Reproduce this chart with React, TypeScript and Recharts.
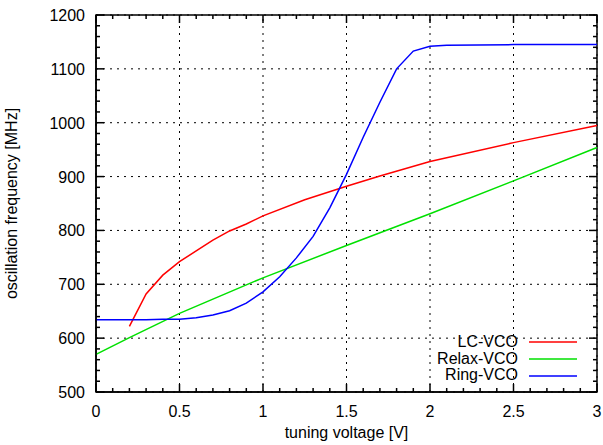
import { LineChart, Line, XAxis, YAxis, Legend, Label, ReferenceArea, ReferenceLine } from "recharts";

const FONT = "'Liberation Sans', Arial, Helvetica, sans-serif";
const FS = 16;

// plot box size, used to mirror the ticks on the top and right edges
const PLOT_W = 501;
const PLOT_H = 377;

// tick positions
const xMajorTicks = [0, 0.5, 1, 1.5, 2, 2.5, 3];
const xMinorTicks = [
  0, 0.1, 0.2, 0.3, 0.4, 0.5, 0.6, 0.7, 0.8, 0.9, 1, 1.1, 1.2, 1.3, 1.4, 1.5,
  1.6, 1.7, 1.8, 1.9, 2, 2.1, 2.2, 2.3, 2.4, 2.5, 2.6, 2.7, 2.8, 2.9, 3,
];
const yMajorTicks = [500, 600, 700, 800, 900, 1000, 1100, 1200];
const yMinorTicks = [
  500, 520, 540, 560, 580, 600, 620, 640, 660, 680, 700, 720, 740, 760, 780,
  800, 820, 840, 860, 880, 900, 920, 940, 960, 980, 1000, 1020, 1040, 1060,
  1080, 1100, 1120, 1140, 1160, 1180, 1200,
];

// LC-VCO
const lcVoltage = [0.2, 0.3, 0.4, 0.5, 0.6, 0.7, 0.8, 0.9, 1.0, 1.25, 1.5, 1.7, 2.0, 2.5, 3.0];
const lcFreq = [622, 682, 717, 742, 762, 782, 799, 812, 827, 857, 882, 901, 928, 963, 995];

// Relax-VCO
const relaxVoltage = [0, 0.2, 0.5, 1.0, 1.5, 2.0, 2.5, 3.0];
const relaxFreq = [570, 601, 646, 712, 772, 831, 892, 954];

// Ring-VCO
const ringVoltage = [
  0, 0.1, 0.2, 0.3, 0.4, 0.5, 0.6, 0.7, 0.8, 0.9, 1.0, 1.1, 1.2, 1.3, 1.4, 1.5,
  1.6, 1.7, 1.8, 1.9, 2.0, 2.1, 2.5, 3.0,
];
const ringFreq = [
  634, 634, 634, 634, 635, 635, 638, 643, 651, 665, 686, 714, 749, 789, 842, 904,
  973, 1038, 1100, 1133, 1142, 1144, 1145, 1145,
];

const seriesColors: Record<string, string> = {
  "LC-VCO": "#ff0000",
  "Relax-VCO": "#00e000",
  "Ring-VCO": "#0000ff",
};

const toRows = (xs: number[], ys: number[]) => xs.map((v, i) => ({ v, f: ys[i] }));

const lcData = toRows(lcVoltage, lcFreq);
const relaxData = toRows(relaxVoltage, relaxFreq);
const ringData = toRows(ringVoltage, ringFreq);

const frame = { stroke: "#000", strokeWidth: 1.5 };

// inward ticks (gnuplot style), drawn on both opposite edges
function BottomTick(props: any) {
  const { x, y, payload } = props;
  const major = xMajorTicks.includes(payload.value);
  const len = major ? 8 : 4;
  const top = y - PLOT_H;
  return (
    <g>
      <line x1={x} y1={y} x2={x} y2={y - len} stroke="#000" strokeWidth={1.5} />
      <line x1={x} y1={top} x2={x} y2={top + len} stroke="#000" strokeWidth={1.5} />
      {major && (
        <text x={x} y={y + 25} textAnchor="middle" fontSize={FS} fontFamily={FONT} fill="#000">
          {payload.value}
        </text>
      )}
    </g>
  );
}

function LeftTick(props: any) {
  const { x, y, payload } = props;
  const major = yMajorTicks.includes(payload.value);
  const len = major ? 8 : 4;
  const right = x + PLOT_W;
  return (
    <g>
      <line x1={x} y1={y} x2={x + len} y2={y} stroke="#000" strokeWidth={1.5} />
      <line x1={right} y1={y} x2={right - len} y2={y} stroke="#000" strokeWidth={1.5} />
      {major && (
        <text x={x - 11} y={y + 6} textAnchor="end" fontSize={FS} fontFamily={FONT} fill="#000">
          {payload.value}
        </text>
      )}
    </g>
  );
}

function XTitle(props: any) {
  const vb = props.viewBox;
  return (
    <text x={vb.x + vb.width / 2} y={vb.y + 46} textAnchor="middle" fontSize={FS} fontFamily={FONT} fill="#000">
      tuning voltage [V]
    </text>
  );
}

function YTitle(props: any) {
  const vb = props.viewBox;
  const cx = vb.x + 11;
  const cy = vb.y + vb.height / 2;
  return (
    <text
      x={cx}
      y={cy}
      transform={`rotate(-90 ${cx} ${cy})`}
      textAnchor="middle"
      dominantBaseline="central"
      fontSize={FS}
      fontFamily={FONT}
      fill="#000"
    >
      oscillation frequency [MHz]
    </text>
  );
}

function VcoLegend({ payload }: any) {
  return (
    <div style={{ fontFamily: FONT, fontSize: FS, color: "#000" }}>
      {(payload ?? []).map((p: any) => (
        <div
          key={p.value}
          style={{ display: "flex", alignItems: "center", justifyContent: "flex-end", height: 16.7 }}
        >
          <span style={{ lineHeight: "16.7px", whiteSpace: "nowrap" }}>{p.value}</span>
          <svg width={48} height={4} style={{ marginLeft: 11, display: "block" }}>
            <line x1={0} y1={2} x2={48} y2={2} stroke={seriesColors[p.value] ?? p.color} strokeWidth={1.5} />
          </svg>
        </div>
      ))}
    </div>
  );
}

export default function App() {
  return (
    <div style={{ position: "absolute", left: 0, top: 0 }}>
      <LineChart width={603} height={445} margin={{ top: 15, right: 6, bottom: 0, left: 0 }}>
        {/* dotted major grid */}
        {xMajorTicks.map((v) => (
          <ReferenceLine key={`gx${v}`} x={v} stroke="#000" strokeDasharray="2 5" strokeWidth={1} />
        ))}
        {yMajorTicks.map((v) => (
          <ReferenceLine key={`gy${v}`} y={v} stroke="#000" strokeDasharray="2 5" strokeWidth={1} />
        ))}

        <XAxis type="number" dataKey="v" domain={[0, 3]} ticks={xMinorTicks} interval={0}
          height={53} tick={BottomTick} tickSize={0} tickMargin={0} tickLine={false} axisLine={frame}>
          <Label content={XTitle} />
        </XAxis>
        <YAxis type="number" domain={[500, 1200]} ticks={yMinorTicks} interval={0}
          width={96} tick={LeftTick} tickSize={0} tickMargin={0} tickLine={false} axisLine={frame}>
          <Label content={YTitle} />
        </YAxis>

        <ReferenceArea x1={0} x2={3} y1={500} y2={1200} fill="none" fillOpacity={0} stroke="#000" strokeWidth={1.5} />

        <Legend
          layout="vertical"
          align="center"
          verticalAlign="middle"
          content={<VcoLegend />}
          wrapperStyle={{ left: 436, top: 334, width: 141 }}
        />

        <Line data={lcData} dataKey="f" name="LC-VCO" type="linear" stroke="#ff0000" strokeWidth={1.5}
          dot={false} activeDot={false} isAnimationActive={false} />
        <Line data={relaxData} dataKey="f" name="Relax-VCO" type="linear" stroke="#00e000" strokeWidth={1.5}
          dot={false} activeDot={false} isAnimationActive={false} />
        <Line data={ringData} dataKey="f" name="Ring-VCO" type="linear" stroke="#0000ff" strokeWidth={1.5}
          dot={false} activeDot={false} isAnimationActive={false} />
      </LineChart>
    </div>
  );
}
